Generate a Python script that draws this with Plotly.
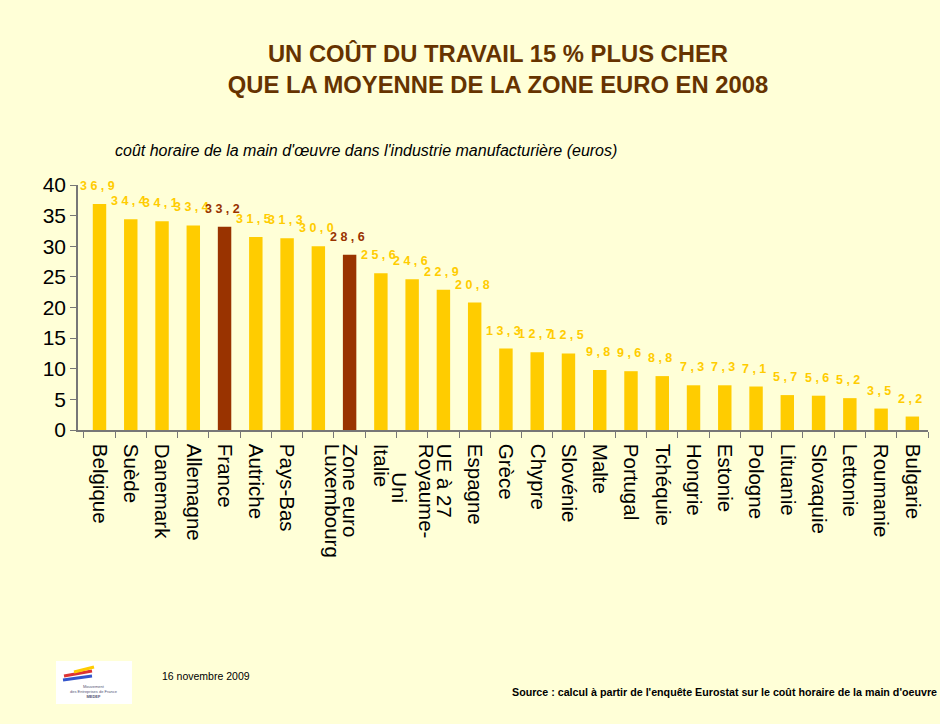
import plotly.graph_objects as go

NB = "\u00a0"
pays = ["Belgique", "Suède", "Danemark", "Allemagne", "France", "Autriche", "Pays-Bas",
        "Luxembourg<br>" + NB, "Zone euro", "Italie", "Royaume-<br>" + NB * 5 + "Uni", "UE à 27",
        "Espagne", "Grèce", "Chypre", "Slovénie", "Malte", "Portugal", "Tchéquie", "Hongrie",
        "Estonie", "Pologne", "Lituanie", "Slovaquie", "Lettonie", "Roumanie", "Bulgarie"]
cout = [36.9, 34.4, 34.1, 33.4, 33.2, 31.5, 31.3, 30.0, 28.6, 25.6, 24.6, 22.9, 20.8, 13.3,
        12.7, 12.5, 9.8, 9.6, 8.8, 7.3, 7.3, 7.1, 5.7, 5.6, 5.2, 3.5, 2.2]
surlignes = ["France", "Zone euro"]
yticks = [0, 5, 10, 15, 20, 25, 30, 35, 40]

JAUNE = "#FFCC00"
BRUN = "#993300"
FOND = "#FFFFD7"
FONT = "Arial, Liberation Sans"

couleurs = [BRUN if p in surlignes else JAUNE for p in pays]

fig = go.Figure()
fig.add_trace(go.Bar(x=pays, y=cout, marker=dict(color=couleurs, line=dict(width=0)),
                     hoverinfo="x+y"))

def fmt(v):
    return " ".join(f"{v:.1f}".replace(".", ","))

annotations = []
for p, v, c in zip(pays, cout, couleurs):
    annotations.append(dict(x=p, y=v, xref="x", yref="y", text="<b>" + fmt(v) + "</b>",
                            showarrow=False, yanchor="bottom", xanchor="center",
                            yshift=9, xshift=-2,
                            font=dict(family=FONT, size=12.5, color=c)))

L, R, T, B = 78, 928, 185, 430
W, H = R - L, B - T
def px(x): return (x - L) / W
def py(y): return (B - y) / H

annotations += [
    dict(x=px(113), y=py(150), xref="paper", yref="paper", xanchor="left", yanchor="middle",
         text="coût horaire de la main d'œuvre dans l'industrie manufacturière (euros)",
         showarrow=False, font=dict(family=FONT, size=16, color="#000", style="italic")),
    dict(x=px(160), y=py(676), xref="paper", yref="paper", xanchor="left", yanchor="middle",
         text="16 novembre 2009", showarrow=False,
         font=dict(family=FONT, size=10.5, color="#000")),
    dict(x=px(939), y=py(692), xref="paper", yref="paper", xanchor="right", yanchor="middle",
         text="<b>Source : calcul à partir de l'enquête Eurostat sur le coût horaire de la main d'oeuvre</b>",
         showarrow=False, font=dict(family=FONT, size=10.7, color="#000")),
    dict(x=px(94), y=py(691), xref="paper", yref="paper", xanchor="center", yanchor="middle",
         text="Mouvement<br>des Entreprises de France<br><b>MEDEF</b>", showarrow=False,
         font=dict(family=FONT, size=4, color="#555577")),
]

shapes = [
    dict(type="rect", xref="paper", yref="paper", x0=px(56), x1=px(132), y0=py(704), y1=py(661),
         fillcolor="white", line=dict(width=0), layer="below"),
    dict(type="line", xref="paper", yref="paper", x0=px(63), x1=px(92), y0=py(680), y1=py(676),
         line=dict(color="#3355CC", width=3)),
    dict(type="line", xref="paper", yref="paper", x0=px(64), x1=px(92), y0=py(676), y1=py(671),
         line=dict(color="#DD3333", width=3)),
    dict(type="line", xref="paper", yref="paper", x0=px(74), x1=px(94), y0=py(672), y1=py(667),
         line=dict(color="#FFCC00", width=3)),
]

fig.update_layout(
    width=940, height=724,
    paper_bgcolor=FOND, plot_bgcolor=FOND,
    margin=dict(l=L, r=940 - R, t=T, b=724 - B, autoexpand=False),
    bargap=0.57,
    showlegend=False,
    title=dict(text="UN COÛT DU TRAVAIL 15 % PLUS CHER<br>QUE LA MOYENNE DE LA ZONE EURO EN 2008",
               x=498 / 940, xanchor="center", y=1 - 62 / 724, yanchor="middle", yref="container",
               font=dict(family=FONT, size=23.8, color="#663300", weight="bold")),
    annotations=annotations,
    shapes=shapes,
    xaxis=dict(type="category", tickangle=90, ticks="outside", tickson="boundaries", ticklen=6,
               tickcolor="#777", showline=True, linecolor="#777", linewidth=1.5,
               showgrid=False, zeroline=False, ticklabelstandoff=8,
               tickfont=dict(family=FONT, size=20.5, color="#000")),
    yaxis=dict(range=[0, 40], tickvals=yticks, ticks="outside", ticklen=6, tickcolor="#777",
               showline=True, linecolor="#777", linewidth=1.5, showgrid=False, zeroline=False,
               tickfont=dict(family=FONT, size=21, color="#000")),
)

fig.write_html("out.html", config={"displayModeBar": False},
               post_script="document.body.style.margin='0';document.body.style.background='%s';" % FOND)
